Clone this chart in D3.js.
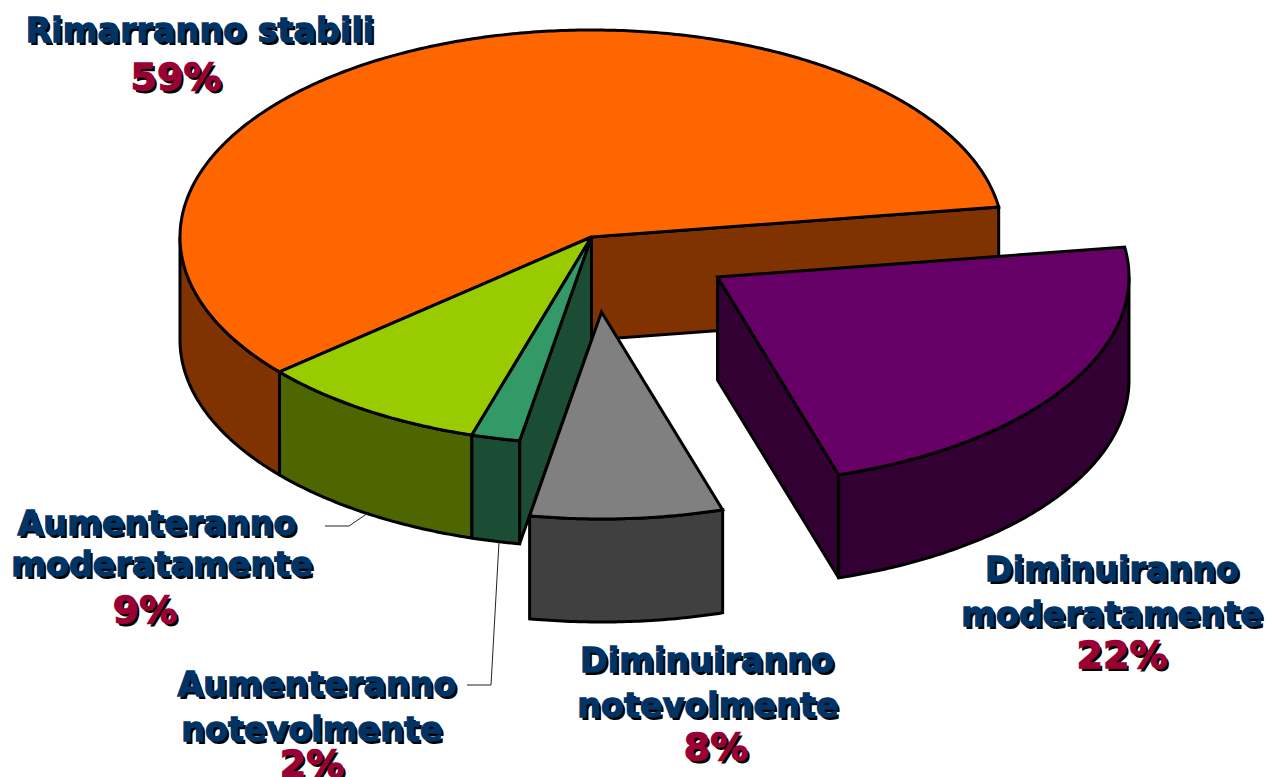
<!DOCTYPE html>
<html><head><meta charset="utf-8">
<style>
html,body{margin:0;padding:0;background:#fff;overflow:hidden}
svg{display:block}
text{font-family:"DejaVu Sans";font-weight:700;text-anchor:middle}
</style>
<script src="https://cdnjs.cloudflare.com/ajax/libs/d3/7.8.5/d3.min.js"></script>
</head><body><svg id="c" width="1266" height="777"></svg>
<script>
const categories=["Diminuiranno moderatamente","Diminuiranno notevolmente","Aumenteranno notevolmente","Aumenteranno moderatamente","Rimarranno stabili"];
const values=[22.55,7.55,1.9,9.0,59.0];
const topColors=["#660066","#808080","#339966","#99CC00","#FF6600"];
const sideColors=["#330033","#404040","#1A4D33","#4D6600","#803300"];
const offsets=[[126,40],[10,75],[0,0],[0,0],[0,0]];
const labelLines=[
 [["Diminuiranno",1112,581,"n"],["moderatamente",1112,626,"n"],["22%",1122,668,"p"]],
 [["Diminuiranno",707,672,"n"],["notevolmente",708,717,"n"],["8%",716,760,"p"]],
 [["Aumenteranno",317,696,"n"],["notevolmente",312,741,"n"],["2%",312,777,"p"]],
 [["Aumenteranno",157,535,"n"],["moderatamente",162,576,"n"],["9%",145,623,"p"]],
 [["Rimarranno stabili",200,42,"n"],["59%",176,90,"p"]]
];
const leaders=[[[325,526],[349,526],[368,513]],[[467,685],[491,685],[499,542]]];
const cx=591.5,cy=237,rx=411.5,ry=207,depth=103;
const startDeg=81.7;
const svg=d3.select("#c");
const xs=d3.scaleLinear().domain([-1,1]).range([cx-rx,cx+rx]);
const ys=d3.scaleLinear().domain([-1,1]).range([cy-ry,cy+ry]);
const pie=d3.pie().sort(null).startAngle(startDeg*Math.PI/180).endAngle(startDeg*Math.PI/180+2*Math.PI);
const arcs=pie(values);
const pt=(a,o,d=0)=>[xs(Math.sin(a))+o[0],ys(-Math.cos(a))+o[1]+d];
const center=(o,d=0)=>[cx+o[0],cy+o[1]+d];
const samples=(a0,a1)=>{const n=Math.max(2,Math.ceil(Math.abs(a1-a0)/0.01));return d3.range(n+1).map(i=>a0+(a1-a0)*i/n)};
const line=d3.line();
function poly(points,fill){
  svg.append("path").attr("d",line(points)+"Z").attr("fill",fill).attr("stroke","#000").attr("stroke-width",3).attr("stroke-linejoin","miter").attr("stroke-miterlimit",3);
}
function rimWall(a0,a1,o,fill){
  const T=2*Math.PI;
  [[Math.PI/2,3*Math.PI/2],[Math.PI/2+T,3*Math.PI/2+T]].forEach(([f0,f1])=>{
    const s=Math.max(a0,f0),e=Math.min(a1,f1);
    if(e>s){
      const upper=samples(s,e).map(a=>pt(a,o));
      const lower=samples(e,s).map(a=>pt(a,o,depth));
      poly(upper.concat(lower),fill);
    }
  });
}
function cutWall(a,o,fill){
  poly([center(o),pt(a,o),pt(a,o,depth),center(o,depth)],fill);
}
function topFace(a0,a1,o,fill){
  poly([center(o)].concat(samples(a0,a1).map(a=>pt(a,o))),fill);
}
[4,3,2,1,0].forEach(i=>{
  const d=arcs[i],o=offsets[i];
  if(i===4) cutWall(d.endAngle,o,sideColors[i]);
  if(i===2) cutWall(d.startAngle,o,sideColors[i]);
  if(i===0) cutWall(d.endAngle,o,sideColors[i]);
  rimWall(d.startAngle,d.endAngle,o,sideColors[i]);
  topFace(d.startAngle,d.endAngle,o,topColors[i]);
});
leaders.forEach(l=>svg.append("path").attr("d",line(l)).attr("fill","none").attr("stroke","#222").attr("stroke-width",1));
const sizes={n:33.4,p:38};
const colors={n:"#003366",p:"#990033"};
labelLines.forEach((lines,i)=>{
  const g=svg.append("g").attr("aria-label",categories[i]);
  lines.forEach(([t,x,y,k])=>{
    g.append("text").attr("x",x+2.5).attr("y",y+2.5).attr("font-size",sizes[k]).attr("fill","#000").text(t);
    g.append("text").attr("x",x).attr("y",y).attr("font-size",sizes[k]).attr("fill",colors[k]).attr("stroke",colors[k]).attr("stroke-width",1.3).text(t);
  });
});
</script></body></html>
